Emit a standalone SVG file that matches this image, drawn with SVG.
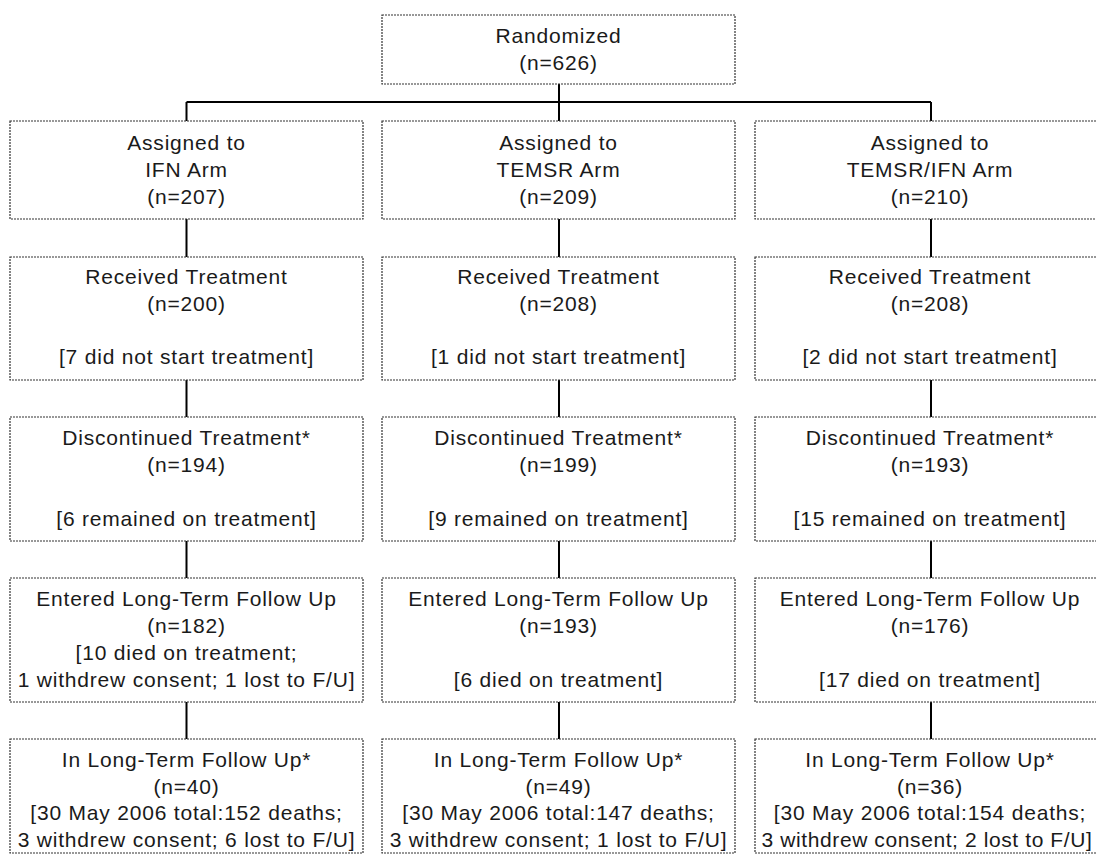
<svg xmlns="http://www.w3.org/2000/svg" width="1096" height="855" viewBox="0 0 1096 855">
<style>
.box{fill:#fff;stroke:#333;stroke-width:1.2;stroke-dasharray:2 1}
.t{font-family:"Liberation Sans",Arial,sans-serif;font-size:21px;letter-spacing:0.8px;fill:#1a1a1a;text-anchor:middle}
.c{stroke:#000;stroke-width:2;fill:none}
</style>
<rect width="1096" height="855" fill="#fff"/>
<g id="connectors">
<path class="c" d="M559 84V121M186.5 102H931M186.5 102V121M931 102V121"/>
<path class="c" d="M186.5 219V257M559 219V257M931 219V257"/>
<path class="c" d="M186.5 380V417M559 380V417M931 380V417"/>
<path class="c" d="M186.5 541V578M559 541V578M931 541V578"/>
<path class="c" d="M186.5 702V739M559 702V739M931 702V739"/>
</g>
<g id="randomized"><rect class="box" x="382" y="15" width="353" height="69"/>
<text class="t" x="558.5" y="43">Randomized</text><text class="t" x="558.5" y="70">(n=626)</text></g>

<g id="assigned-ifn"><rect class="box" x="10" y="121" width="353" height="98"/>
<text class="t" x="186.5" y="150">Assigned to</text><text class="t" x="186.5" y="177">IFN Arm</text><text class="t" x="186.5" y="203.5">(n=207)</text></g>
<g id="assigned-temsr"><rect class="box" x="382" y="121" width="353" height="98"/>
<text class="t" x="558.5" y="150">Assigned to</text><text class="t" x="558.5" y="177">TEMSR Arm</text><text class="t" x="558.5" y="203.5">(n=209)</text></g>
<g id="assigned-combo"><rect class="box" x="755" y="121" width="352" height="98"/>
<text class="t" x="930" y="150">Assigned to</text><text class="t" x="930" y="177">TEMSR/IFN Arm</text><text class="t" x="930" y="203.5">(n=210)</text></g>

<g id="received-ifn"><rect class="box" x="10" y="257" width="353" height="123"/>
<text class="t" x="186.5" y="284">Received Treatment</text><text class="t" x="186.5" y="310.5">(n=200)</text><text class="t" x="186.5" y="364">[7 did not start treatment]</text></g>
<g id="received-temsr"><rect class="box" x="382" y="257" width="353" height="123"/>
<text class="t" x="558.5" y="284">Received Treatment</text><text class="t" x="558.5" y="310.5">(n=208)</text><text class="t" x="558.5" y="364">[1 did not start treatment]</text></g>
<g id="received-combo"><rect class="box" x="755" y="257" width="352" height="123"/>
<text class="t" x="930" y="284">Received Treatment</text><text class="t" x="930" y="310.5">(n=208)</text><text class="t" x="930" y="364">[2 did not start treatment]</text></g>

<g id="discontinued-ifn"><rect class="box" x="10" y="417" width="353" height="124"/>
<text class="t" x="186.5" y="445">Discontinued Treatment*</text><text class="t" x="186.5" y="472">(n=194)</text><text class="t" x="186.5" y="526">[6 remained on treatment]</text></g>
<g id="discontinued-temsr"><rect class="box" x="382" y="417" width="353" height="124"/>
<text class="t" x="558.5" y="445">Discontinued Treatment*</text><text class="t" x="558.5" y="472">(n=199)</text><text class="t" x="558.5" y="526">[9 remained on treatment]</text></g>
<g id="discontinued-combo"><rect class="box" x="755" y="417" width="352" height="124"/>
<text class="t" x="930" y="445">Discontinued Treatment*</text><text class="t" x="930" y="472">(n=193)</text><text class="t" x="930" y="526">[15 remained on treatment]</text></g>

<g id="entered-ifn"><rect class="box" x="10" y="578" width="353" height="124"/>
<text class="t" x="186.5" y="606">Entered Long-Term Follow Up</text><text class="t" x="186.5" y="633">(n=182)</text><text class="t" x="186.5" y="660">[10 died on treatment;</text><text class="t" x="186.5" y="687">1 withdrew consent; 1 lost to F/U]</text></g>
<g id="entered-temsr"><rect class="box" x="382" y="578" width="353" height="124"/>
<text class="t" x="558.5" y="606">Entered Long-Term Follow Up</text><text class="t" x="558.5" y="633">(n=193)</text><text class="t" x="558.5" y="687">[6 died on treatment]</text></g>
<g id="entered-combo"><rect class="box" x="755" y="578" width="352" height="124"/>
<text class="t" x="930" y="606">Entered Long-Term Follow Up</text><text class="t" x="930" y="633">(n=176)</text><text class="t" x="930" y="687">[17 died on treatment]</text></g>

<g id="followup-ifn"><rect class="box" x="10" y="739" width="353" height="114"/>
<text class="t" x="186.5" y="767">In Long-Term Follow Up*</text><text class="t" x="186.5" y="793.5">(n=40)</text><text class="t" x="186.5" y="820">[30 May 2006 total:152 deaths;</text><text class="t" x="186.5" y="847">3 withdrew consent; 6 lost to F/U]</text></g>
<g id="followup-temsr"><rect class="box" x="382" y="739" width="353" height="114"/>
<text class="t" x="558.5" y="767">In Long-Term Follow Up*</text><text class="t" x="558.5" y="793.5">(n=49)</text><text class="t" x="558.5" y="820">[30 May 2006 total:147 deaths;</text><text class="t" x="558.5" y="847">3 withdrew consent; 1 lost to F/U]</text></g>
<g id="followup-combo"><rect class="box" x="755" y="739" width="352" height="114"/>
<text class="t" x="930" y="767">In Long-Term Follow Up*</text><text class="t" x="930" y="793.5">(n=36)</text><text class="t" x="930" y="820">[30 May 2006 total:154 deaths;</text><text class="t" x="927" y="847" style="letter-spacing:0.6px">3 withdrew consent; 2 lost to F/U]</text></g>
</svg>
